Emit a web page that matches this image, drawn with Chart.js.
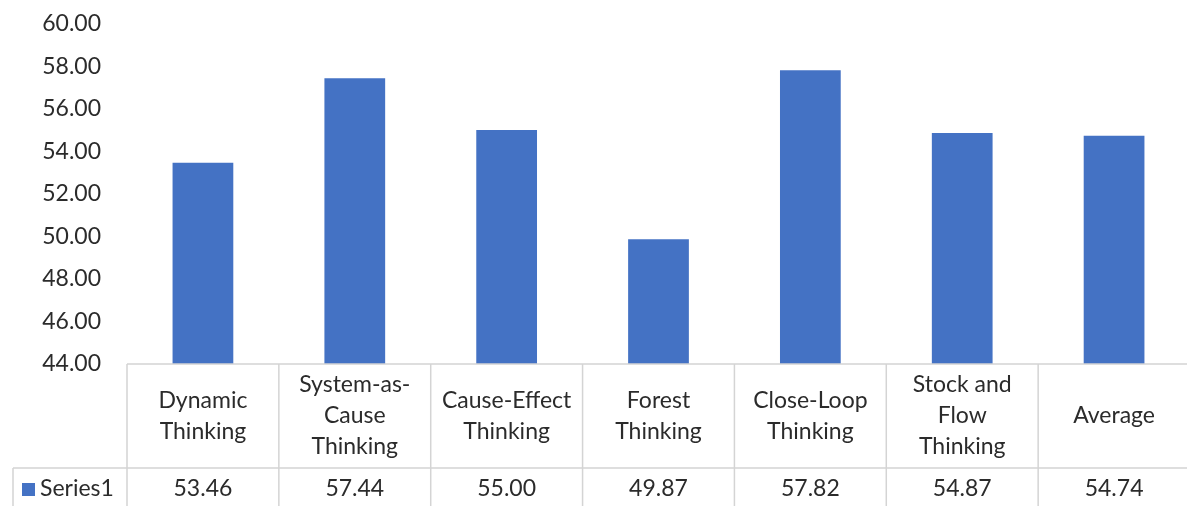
<!DOCTYPE html>
<html>
<head>
<meta charset="utf-8">
<script src="https://cdn.jsdelivr.net/npm/chart.js@4/dist/chart.umd.min.js"></script>
<style>
  body { margin: 0; background: #fff; overflow: hidden; }
  #wrap { width: 1192px; height: 528px; margin-top: -16px; }
</style>
</head>
<body>
<div id="wrap"><canvas id="chart"></canvas></div>
<script>
// --- data ---
const categories = [
    ["Dynamic", "Thinking"],
    ["System-as-", "Cause", "Thinking"],
    ["Cause-Effect", "Thinking"],
    ["Forest", "Thinking"],
    ["Close-Loop", "Thinking"],
    ["Stock and", "Flow", "Thinking"],
    ["Average"]
];
const seriesName = "Series1";
const seriesValues = [53.46, 57.44, 55.00, 49.87, 57.82, 54.87, 54.74];
const yTicks = [44, 46, 48, 50, 52, 54, 56, 58, 60];

const FONT = "Lato";
const FONT_SIZE = 23;
const BAR_COLOR = "#4472C4";
const LINE_COLOR = "#d4d4d4";
const TEXT_COLOR = "#2b2b2b";

// data table under the plot, drawn on the x scale's positions
const dataTable = {
    id: "dataTable",
    afterDraw(chart) {
        const ctx = chart.ctx;
        const x = chart.scales.x;
        const area = chart.chartArea;
        const n = categories.length;
        const colW = area.width / n;
        const headTop = area.bottom;
        const rowTop = headTop + 104;
        const rowBottom = rowTop + 44;
        const legendLeft = 13;

        ctx.save();
        ctx.strokeStyle = LINE_COLOR;
        ctx.lineWidth = 1.5;
        ctx.beginPath();
        // horizontals
        ctx.moveTo(area.left, headTop); ctx.lineTo(area.right, headTop);
        ctx.moveTo(legendLeft, rowTop); ctx.lineTo(area.right, rowTop);
        ctx.moveTo(legendLeft, rowBottom); ctx.lineTo(area.right, rowBottom);
        // verticals
        ctx.moveTo(legendLeft, rowTop); ctx.lineTo(legendLeft, rowBottom);
        for (let i = 0; i <= n; i++) {
            const bx = area.left + i * colW;
            ctx.moveTo(bx, headTop); ctx.lineTo(bx, rowBottom);
        }
        ctx.stroke();

        ctx.fillStyle = TEXT_COLOR;
        ctx.font = FONT_SIZE + "px " + FONT;
        ctx.textAlign = "center";
        ctx.textBaseline = "middle";
        const lineH = 31;
        const headMid = (headTop + rowTop) / 2;
        categories.forEach((lines, i) => {
            const cx = x.getPixelForValue(i);
            const y0 = headMid - (lines.length - 1) * lineH / 2;
            lines.forEach((ln, j) => ctx.fillText(ln, cx, y0 + j * lineH));
            ctx.fillText(seriesValues[i].toFixed(2), cx, rowTop + 21);
        });

        // legend key + series name
        ctx.fillStyle = BAR_COLOR;
        ctx.fillRect(22, rowTop + 15, 13, 13);
        ctx.fillStyle = TEXT_COLOR;
        ctx.textAlign = "left";
        ctx.fillText(seriesName, 40, rowTop + 21);
        ctx.restore();
    }
};

new Chart(document.getElementById("chart"), {
    type: "bar",
    data: {
        labels: categories,
        datasets: [{
            label: seriesName,
            data: seriesValues,
            backgroundColor: BAR_COLOR,
            barPercentage: 0.4,
            categoryPercentage: 1.0
        }]
    },
    options: {
        responsive: true,
        maintainAspectRatio: false,
        animation: false,
        layout: { padding: { top: 6, bottom: 148, left: 0, right: 2 } },
        plugins: {
            legend: { display: false },
            tooltip: { enabled: false }
        },
        scales: {
            x: { display: false },
            y: {
                min: 44,
                max: 60,
                afterBuildTicks: (scale) => { scale.ticks = yTicks.map(v => ({ value: v })); },
                afterFit: (scale) => { scale.width = 127; },
                grid: { display: false, drawTicks: false },
                border: { display: false },
                ticks: {
                    padding: 26,
                    color: TEXT_COLOR,
                    font: { family: FONT, size: FONT_SIZE },
                    callback: (v) => Number(v).toFixed(2)
                }
            }
        }
    },
    plugins: [dataTable]
});
</script>
</body>
</html>
